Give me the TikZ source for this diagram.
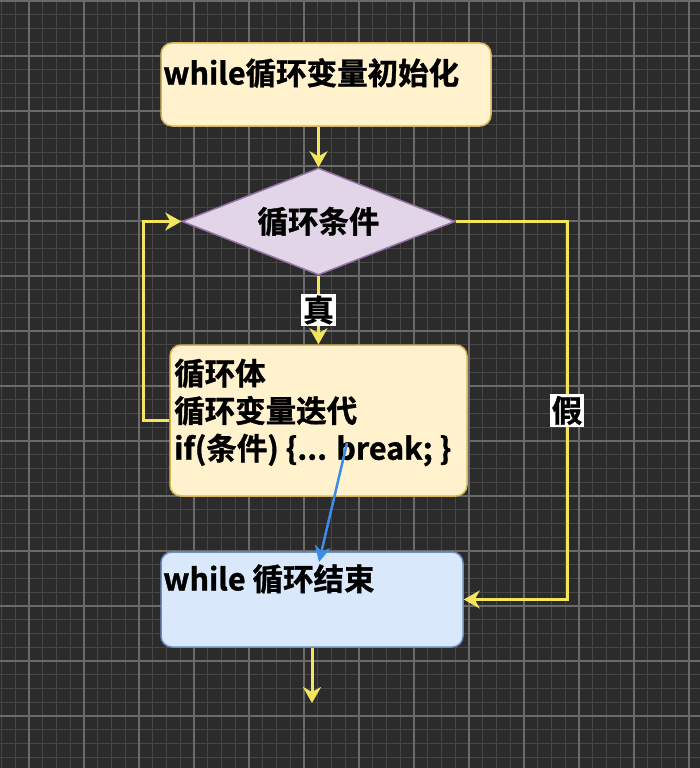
\documentclass[tikz,border=0pt]{standalone}
\usepackage{fontspec}
\newfontfamily\cjk{Noto Sans CJK SC}[BoldFont={Noto Sans CJK SC Bold}, BoldFeatures={FakeBold=1.2}]
\usetikzlibrary{shapes.geometric,arrows.meta}
\definecolor{bg}{HTML}{2B2B2B}
\definecolor{gminor}{HTML}{464646}
\definecolor{gmajor}{HTML}{6A6A6A}
\definecolor{yfill}{HTML}{FFF2CC}
\definecolor{ydraw}{HTML}{D6B656}
\definecolor{pfill}{HTML}{E1D5E7}
\definecolor{pdraw}{HTML}{9673A6}
\definecolor{bfill}{HTML}{DAE8FC}
\definecolor{bdraw}{HTML}{6C8EBF}
\definecolor{ylw}{HTML}{F4E55E}
\definecolor{blu}{HTML}{3A8EEA}
\tikzset{
  txt/.style={font=\cjk\bfseries\fontsize{30.5}{37.5}\selectfont, text=black, inner sep=2pt, align=left},
  ybox/.style={rectangle, rounded corners=11pt, fill=yfill, draw=ydraw, line width=1.5pt, inner sep=0pt},
  bbox/.style={rectangle, rounded corners=11pt, fill=bfill, draw=bdraw, line width=1.5pt, inner sep=0pt},
  dbox/.style={diamond, aspect=2.55, fill=pfill, draw=pdraw, line width=1.5pt, inner sep=0pt},
  yarrow/.style={draw=ylw, line width=3pt, -{Stealth[length=16pt,width=18pt,inset=5pt]}},
  barrow/.style={draw=blu, line width=2.5pt, -{Stealth[length=16pt,width=16pt,inset=5pt]}},
  lbl/.style={fill=white, text=black, font=\cjk\bfseries\fontsize{30.5}{32}\selectfont, inner sep=2pt}
}
\begin{document}
\begin{tikzpicture}[x=1pt,y=-1pt]
\fill[bg] (0,0) rectangle (700,768);
\useasboundingbox (0,0) rectangle (700,768);
% grid
\foreach \i in {0,...,51} {
  \draw[gminor, line width=1pt] ({1.5+13.75*\i},0) -- ({1.5+13.75*\i},768);
}
\foreach \i in {0,...,56} {
  \draw[gminor, line width=1pt] (0,{1+13.75*\i}) -- (700,{1+13.75*\i});
}
\foreach \i in {0,...,12} {
  \draw[gmajor, line width=1.2pt] ({29+55*\i},0) -- ({29+55*\i},768);
}
\foreach \i in {0,...,13} {
  \draw[gmajor, line width=1.2pt] (0,{1+55*\i}) -- (700,{1+55*\i});
}
% boxes
\node[ybox, minimum width=330pt, minimum height=83pt] (init) at (326,84.5) {};
\node[txt, anchor=west] (tinit) at (161,73) {while循环变量初始化};
\node[dbox, minimum width=273pt, minimum height=107pt] (cond) at (318.5,221.5) {};
\node[txt] (tcond) at (318.5,221.5) {循环条件};
\node[ybox, minimum width=297pt, minimum height=151pt] (body) at (318.5,420.5) {};
\node[txt, anchor=west] (tbody) at (172,412.5) {循环体\\循环变量迭代\\if(条件) \{... break; \}};
\node[bbox, minimum width=302pt, minimum height=95pt] (endb) at (312,599.5) {};
\node[txt, anchor=west] (tend) at (161,579) {while 循环结束};
% connectors
\draw[yarrow] (cond.north |- init.south) -- (cond.north);
\draw[yarrow] (cond.south) -- node[lbl] (lt) {真} (body.north);
\draw[yarrow] (body.west) -- ++(-26,0) |- (cond.west);
\coordinate (fr) at (567,221.5);
\draw[yarrow] (cond.east) -- (fr) |- node[lbl, pos=0.25] (lf) {假} (endb.east);
\coordinate (bs) at (347,443);
\coordinate (be) at (319,562);
\draw[barrow] (bs) -- (be);
\coordinate (out) at (312,703);
\draw[yarrow] (endb.south) -- (out);
\end{tikzpicture}
\end{document}
